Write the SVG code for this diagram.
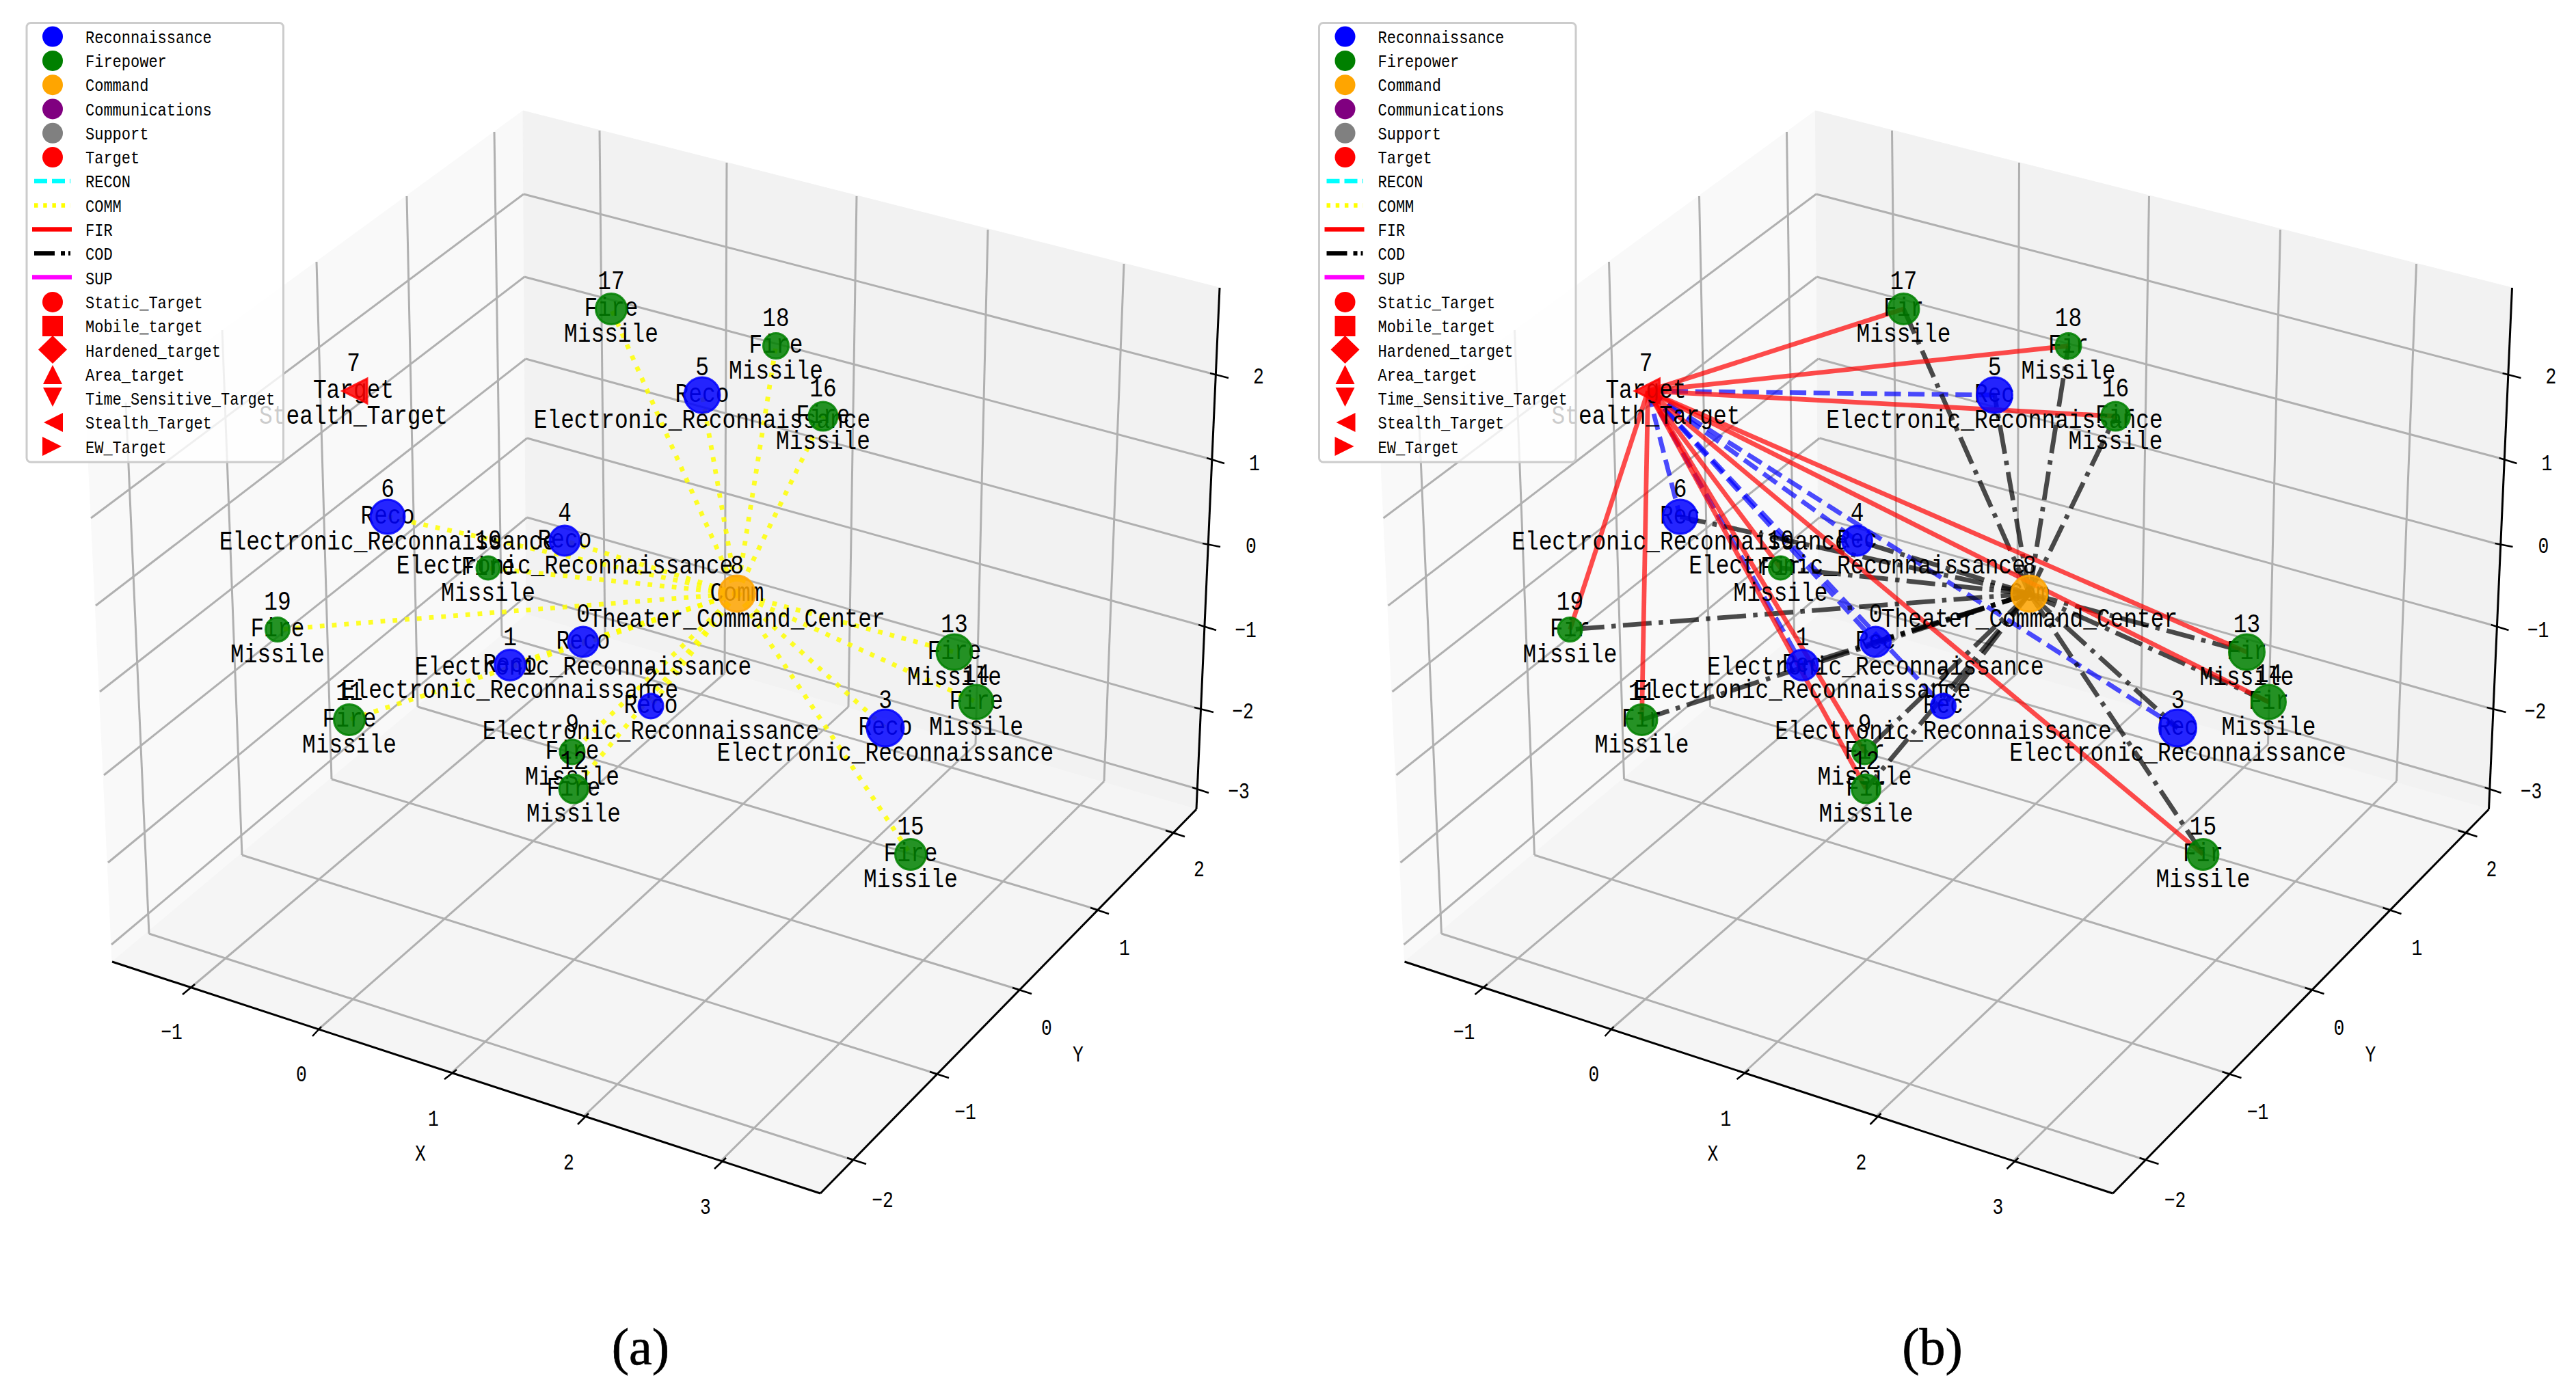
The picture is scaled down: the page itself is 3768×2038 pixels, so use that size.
<svg xmlns="http://www.w3.org/2000/svg" xmlns:xlink="http://www.w3.org/1999/xlink" width="3768" height="2038" viewBox="0 0 3768 2038">
<style>
text{fill:#000;font-family:"Liberation Mono","DejaVu Sans Mono",monospace;text-anchor:middle}
.l{font-size:39px}
.t{font-size:33px}
.g{font-size:26px;text-anchor:start}
.cap{font-family:"Liberation Serif",serif;font-size:76px;stroke:#000;stroke-width:.7}
.grid line{stroke:#b0b0b0;stroke-width:3}
.ax line{stroke:#000;stroke-width:3}
.tk line{stroke:#000;stroke-width:2.5}
.b{fill:#0000ff;stroke:#0000ff}
.f{fill:#008000;stroke:#008000}
.o{fill:#ffa500;stroke:#ffa500}
.r{fill:#ff0000;stroke:#ff0000}
.n{fill-opacity:.85;stroke-opacity:.85;stroke-width:3}
.comm line{stroke:#ffff00;stroke-opacity:.85;stroke-width:6.8;stroke-dasharray:6.8 11}
.cod line{stroke:#000;stroke-opacity:.7;stroke-width:6.8;stroke-dasharray:42 10.4 6.5 10.4}
.rec line{stroke:#0000ff;stroke-opacity:.7;stroke-width:6.8;stroke-dasharray:24 10.6}
.fir line{stroke:#ff0000;stroke-opacity:.7;stroke-width:6.8}
.lg{fill:#fff;fill-opacity:.8;stroke:#ccc;stroke-width:3}
</style>
<defs>
<g id="frame">
<polygon points="765,162 127,628 164,1407 770,899" fill="#f9f9f9" stroke="#f9f9f9"/>
<polygon points="765,162 1784,421 1750,1184 770,899" fill="#f2f2f2" stroke="#f2f2f2"/>
<polygon points="770,899 164,1407 1200,1746 1750,1184" fill="#f5f5f5" stroke="#f5f5f5"/>
<g class="grid">
<line x1="723" y1="193" x2="734" y2="931"/><line x1="595" y1="287" x2="611" y2="1034"/><line x1="463" y1="383" x2="485" y2="1140"/><line x1="325" y1="483" x2="354" y2="1251"/><line x1="184" y1="589" x2="218" y2="1366"/>
<line x1="766" y1="284" x2="133" y2="758"/><line x1="767" y1="405" x2="140" y2="886"/><line x1="769" y1="525" x2="146" y2="1012"/><line x1="771" y1="641" x2="152" y2="1134"/><line x1="771" y1="757" x2="158" y2="1262"/><line x1="771" y1="871" x2="163" y2="1382"/>
<line x1="877" y1="191" x2="885" y2="933"/><line x1="1063" y1="238" x2="1060" y2="985"/><line x1="1253" y1="287" x2="1241" y2="1034"/><line x1="1445" y1="336" x2="1427" y2="1089"/><line x1="1644" y1="386" x2="1615" y2="1143"/>
<line x1="766" y1="284" x2="1770" y2="546"/><line x1="767" y1="405" x2="1765" y2="670"/><line x1="769" y1="525" x2="1759" y2="795"/><line x1="771" y1="641" x2="1753" y2="914"/><line x1="771" y1="757" x2="1747" y2="1035"/><line x1="771" y1="871" x2="1744" y2="1152"/>
<line x1="885" y1="933" x2="279" y2="1445"/><line x1="1060" y1="985" x2="467" y2="1505"/><line x1="1241" y1="1034" x2="661" y2="1569"/><line x1="1427" y1="1089" x2="855" y2="1632"/><line x1="1615" y1="1143" x2="1055" y2="1698"/>
<line x1="218" y1="1366" x2="1248" y2="1697"/><line x1="354" y1="1251" x2="1370" y2="1571"/><line x1="485" y1="1140" x2="1491" y2="1448"/><line x1="611" y1="1034" x2="1606" y2="1331"/><line x1="734" y1="931" x2="1721" y2="1219"/>
</g>
<g class="ax">
<line x1="164" y1="1407" x2="1200" y2="1746"/><line x1="1200" y1="1746" x2="1750" y2="1184"/><line x1="1750" y1="1184" x2="1784" y2="421"/>
</g>
<g class="tk">
<line x1="267" y1="1455" x2="285" y2="1440"/><line x1="457" y1="1516" x2="470" y2="1502"/><line x1="650" y1="1579" x2="668" y2="1565"/><line x1="845" y1="1645" x2="861" y2="1629"/><line x1="1045" y1="1710" x2="1062" y2="1694"/>
<line x1="1267" y1="1703" x2="1239" y2="1694"/><line x1="1388" y1="1577" x2="1360" y2="1568"/><line x1="1509" y1="1454" x2="1481" y2="1445"/><line x1="1622" y1="1337" x2="1595" y2="1328"/><line x1="1733" y1="1224" x2="1705" y2="1215"/>
<line x1="1770" y1="546" x2="1797" y2="553"/><line x1="1765" y1="670" x2="1791" y2="678"/><line x1="1759" y1="795" x2="1785" y2="800"/><line x1="1753" y1="914" x2="1779" y2="922"/><line x1="1747" y1="1035" x2="1775" y2="1042"/><line x1="1744" y1="1152" x2="1768" y2="1160"/>
</g>
</g>
<g id="legendbox">
<rect class="lg" x="39" y="33.5" width="375.5" height="642.5" rx="6"/>
<g stroke="none">
<circle cx="77" cy="53.6" r="15" fill="#0000ff"/><circle cx="77" cy="88.9" r="15" fill="#008000"/><circle cx="77" cy="124.2" r="15" fill="#ffa500"/><circle cx="77" cy="159.5" r="15" fill="#800080"/><circle cx="77" cy="194.8" r="15" fill="#808080"/><circle cx="77" cy="230.1" r="15" fill="#ff0000"/>
<circle cx="77" cy="441.9" r="15" fill="#ff0000"/>
<rect x="62" y="462" width="30" height="30" fill="#ff0000"/>
<polygon points="77,491 98,511.5 77,532 56,511.5" fill="#ff0000"/>
<polygon points="77,534 91,562 63,562" fill="#ff0000"/>
<polygon points="63,567 91,567 77,595" fill="#ff0000"/>
<polygon points="64,618 92,604 92,632" fill="#ff0000"/>
<polygon points="62,639 62,667 90,653" fill="#ff0000"/>
</g>
<g stroke-width="6.5">
<line x1="50" y1="265" x2="103" y2="265" stroke="#00ffff" stroke-dasharray="19 7"/>
<line x1="50" y1="300.5" x2="103" y2="300.5" stroke="#ffff00" stroke-dasharray="5.5 7.7"/>
<line x1="47" y1="335.5" x2="105" y2="335.5" stroke="#ff0000"/>
<line x1="50" y1="370.5" x2="103" y2="370.5" stroke="#000" stroke-dasharray="30 9 6 5"/>
<line x1="47" y1="405.5" x2="105" y2="405.5" stroke="#ff00ff"/>
</g>
</g>
</defs>
<rect width="3768" height="2038" fill="#fff"/>

<g id="panel-a">
<use href="#frame" xlink:href="#frame"/>
<g id="axis-labels-a">
<text class="t" x="251" y="1520" textLength="31.6" lengthAdjust="spacingAndGlyphs">−1</text>
<text class="t" x="441" y="1582" textLength="15.8" lengthAdjust="spacingAndGlyphs">0</text>
<text class="t" x="634" y="1647" textLength="15.8" lengthAdjust="spacingAndGlyphs">1</text>
<text class="t" x="832" y="1711" textLength="15.8" lengthAdjust="spacingAndGlyphs">2</text>
<text class="t" x="1032" y="1776" textLength="15.8" lengthAdjust="spacingAndGlyphs">3</text>
<text class="t" x="615" y="1698" textLength="15.8" lengthAdjust="spacingAndGlyphs">X</text>
<text class="t" x="1291" y="1766" textLength="31.6" lengthAdjust="spacingAndGlyphs">−2</text>
<text class="t" x="1412" y="1637" textLength="31.6" lengthAdjust="spacingAndGlyphs">−1</text>
<text class="t" x="1531" y="1514" textLength="15.8" lengthAdjust="spacingAndGlyphs">0</text>
<text class="t" x="1645" y="1397" textLength="15.8" lengthAdjust="spacingAndGlyphs">1</text>
<text class="t" x="1754" y="1282" textLength="15.8" lengthAdjust="spacingAndGlyphs">2</text>
<text class="t" x="1577" y="1553" textLength="15.8" lengthAdjust="spacingAndGlyphs">Y</text>
<text class="t" x="1841" y="561" textLength="15.8" lengthAdjust="spacingAndGlyphs">2</text>
<text class="t" x="1835" y="688" textLength="15.8" lengthAdjust="spacingAndGlyphs">1</text>
<text class="t" x="1830" y="809" textLength="15.8" lengthAdjust="spacingAndGlyphs">0</text>
<text class="t" x="1822" y="932" textLength="31.6" lengthAdjust="spacingAndGlyphs">−1</text>
<text class="t" x="1818" y="1051" textLength="31.6" lengthAdjust="spacingAndGlyphs">−2</text>
<text class="t" x="1812" y="1168" textLength="31.6" lengthAdjust="spacingAndGlyphs">−3</text>
</g>
<g id="connectors-a" class="comm">
<line x1="1078" y1="868.5" x2="853" y2="939"/><line x1="1078" y1="868.5" x2="746" y2="973"/><line x1="1078" y1="868.5" x2="511" y2="1053"/><line x1="1078" y1="868.5" x2="952" y2="1033"/><line x1="1078" y1="868.5" x2="837" y2="1100"/><line x1="1078" y1="868.5" x2="839" y2="1154"/><line x1="1078" y1="868.5" x2="1295" y2="1065"/><line x1="1078" y1="868.5" x2="1332" y2="1250"/><line x1="1078" y1="868.5" x2="1396" y2="954"/><line x1="1078" y1="868.5" x2="1428" y2="1027"/><line x1="1078" y1="868.5" x2="1204" y2="609"/><line x1="1078" y1="868.5" x2="1135" y2="506"/><line x1="1078" y1="868.5" x2="1027" y2="578"/><line x1="1078" y1="868.5" x2="894" y2="452"/><line x1="1078" y1="868.5" x2="826" y2="791"/><line x1="1078" y1="868.5" x2="567" y2="756"/><line x1="1078" y1="868.5" x2="714" y2="831"/><line x1="1078" y1="868.5" x2="406" y2="921"/>
</g>
<g id="a-node-6"><text class="l" x="567" y="727" textLength="19.7" lengthAdjust="spacingAndGlyphs">6</text><text class="l" x="567" y="766" textLength="78.8" lengthAdjust="spacingAndGlyphs">Reco</text><text class="l" x="567" y="804" textLength="492.5" lengthAdjust="spacingAndGlyphs">Electronic_Reconnaissance</text><circle class="n b" cx="567" cy="756" r="25"/></g>
<g id="a-node-4"><text class="l" x="826" y="762" textLength="19.7" lengthAdjust="spacingAndGlyphs">4</text><text class="l" x="826" y="801" textLength="78.8" lengthAdjust="spacingAndGlyphs">Reco</text><text class="l" x="826" y="839" textLength="492.5" lengthAdjust="spacingAndGlyphs">Electronic_Reconnaissance</text><circle class="n b" cx="826" cy="791" r="22"/></g>
<g id="a-node-10"><text class="l" x="714" y="802" textLength="39.4" lengthAdjust="spacingAndGlyphs">10</text><text class="l" x="714" y="841" textLength="78.8" lengthAdjust="spacingAndGlyphs">Fire</text><text class="l" x="714" y="879" textLength="137.9" lengthAdjust="spacingAndGlyphs">Missile</text><circle class="n f" cx="714" cy="831" r="17"/></g>
<g id="a-node-8"><text class="l" x="1078" y="839" textLength="19.7" lengthAdjust="spacingAndGlyphs">8</text><text class="l" x="1078" y="879" textLength="78.8" lengthAdjust="spacingAndGlyphs">Comm</text><text class="l" x="1078" y="917" textLength="433.4" lengthAdjust="spacingAndGlyphs">Theater_Command_Center</text><circle class="n o" cx="1078" cy="868.5" r="26.5"/></g>
<g id="a-node-0"><text class="l" x="853" y="910" textLength="19.7" lengthAdjust="spacingAndGlyphs">0</text><text class="l" x="853" y="949" textLength="78.8" lengthAdjust="spacingAndGlyphs">Reco</text><text class="l" x="853" y="987" textLength="492.5" lengthAdjust="spacingAndGlyphs">Electronic_Reconnaissance</text><circle class="n b" cx="853" cy="939" r="22"/></g>
<g id="a-node-1"><text class="l" x="746" y="944" textLength="19.7" lengthAdjust="spacingAndGlyphs">1</text><text class="l" x="746" y="983" textLength="78.8" lengthAdjust="spacingAndGlyphs">Reco</text><text class="l" x="746" y="1021" textLength="492.5" lengthAdjust="spacingAndGlyphs">Electronic_Reconnaissance</text><circle class="n b" cx="746" cy="973" r="22.5"/></g>
<g id="a-node-2"><text class="l" x="952" y="1004" textLength="19.7" lengthAdjust="spacingAndGlyphs">2</text><text class="l" x="952" y="1043" textLength="78.8" lengthAdjust="spacingAndGlyphs">Reco</text><text class="l" x="952" y="1081" textLength="492.5" lengthAdjust="spacingAndGlyphs">Electronic_Reconnaissance</text><circle class="n b" cx="952" cy="1033" r="18"/></g>
<g id="a-node-11"><text class="l" x="511" y="1024" textLength="39.4" lengthAdjust="spacingAndGlyphs">11</text><text class="l" x="511" y="1063" textLength="78.8" lengthAdjust="spacingAndGlyphs">Fire</text><text class="l" x="511" y="1101" textLength="137.9" lengthAdjust="spacingAndGlyphs">Missile</text><circle class="n f" cx="511" cy="1053" r="22.5"/></g>
<g id="a-node-5"><text class="l" x="1027" y="549" textLength="19.7" lengthAdjust="spacingAndGlyphs">5</text><text class="l" x="1027" y="588" textLength="78.8" lengthAdjust="spacingAndGlyphs">Reco</text><text class="l" x="1027" y="626" textLength="492.5" lengthAdjust="spacingAndGlyphs">Electronic_Reconnaissance</text><circle class="n b" cx="1027" cy="578" r="26"/></g>
<g id="a-node-18"><text class="l" x="1135" y="477" textLength="39.4" lengthAdjust="spacingAndGlyphs">18</text><text class="l" x="1135" y="516" textLength="78.8" lengthAdjust="spacingAndGlyphs">Fire</text><text class="l" x="1135" y="554" textLength="137.9" lengthAdjust="spacingAndGlyphs">Missile</text><circle class="n f" cx="1135" cy="506" r="18.5"/></g>
<g id="a-node-16"><text class="l" x="1204" y="580" textLength="39.4" lengthAdjust="spacingAndGlyphs">16</text><text class="l" x="1204" y="619" textLength="78.8" lengthAdjust="spacingAndGlyphs">Fire</text><text class="l" x="1204" y="657" textLength="137.9" lengthAdjust="spacingAndGlyphs">Missile</text><circle class="n f" cx="1204" cy="609" r="21"/></g>
<g id="a-node-17"><text class="l" x="894" y="423" textLength="39.4" lengthAdjust="spacingAndGlyphs">17</text><text class="l" x="894" y="462" textLength="78.8" lengthAdjust="spacingAndGlyphs">Fire</text><text class="l" x="894" y="500" textLength="137.9" lengthAdjust="spacingAndGlyphs">Missile</text><circle class="n f" cx="894" cy="452" r="22.5"/></g>
<g id="a-node-19"><text class="l" x="406" y="892" textLength="39.4" lengthAdjust="spacingAndGlyphs">19</text><text class="l" x="406" y="931" textLength="78.8" lengthAdjust="spacingAndGlyphs">Fire</text><text class="l" x="406" y="969" textLength="137.9" lengthAdjust="spacingAndGlyphs">Missile</text><circle class="n f" cx="406" cy="921" r="17.5"/></g>
<g id="a-node-3"><text class="l" x="1295" y="1036" textLength="19.7" lengthAdjust="spacingAndGlyphs">3</text><text class="l" x="1295" y="1075" textLength="78.8" lengthAdjust="spacingAndGlyphs">Reco</text><text class="l" x="1295" y="1113" textLength="492.5" lengthAdjust="spacingAndGlyphs">Electronic_Reconnaissance</text><circle class="n b" cx="1295" cy="1065" r="27"/></g>
<g id="a-node-13"><text class="l" x="1396" y="925" textLength="39.4" lengthAdjust="spacingAndGlyphs">13</text><text class="l" x="1396" y="964" textLength="78.8" lengthAdjust="spacingAndGlyphs">Fire</text><text class="l" x="1396" y="1002" textLength="137.9" lengthAdjust="spacingAndGlyphs">Missile</text><circle class="n f" cx="1396" cy="954" r="26"/></g>
<g id="a-node-14"><text class="l" x="1428" y="998" textLength="39.4" lengthAdjust="spacingAndGlyphs">14</text><text class="l" x="1428" y="1037" textLength="78.8" lengthAdjust="spacingAndGlyphs">Fire</text><text class="l" x="1428" y="1075" textLength="137.9" lengthAdjust="spacingAndGlyphs">Missile</text><circle class="n f" cx="1428" cy="1027" r="25"/></g>
<g id="a-node-15"><text class="l" x="1332" y="1221" textLength="39.4" lengthAdjust="spacingAndGlyphs">15</text><text class="l" x="1332" y="1260" textLength="78.8" lengthAdjust="spacingAndGlyphs">Fire</text><text class="l" x="1332" y="1298" textLength="137.9" lengthAdjust="spacingAndGlyphs">Missile</text><circle class="n f" cx="1332" cy="1250" r="22.5"/></g>
<g id="a-node-9"><text class="l" x="837" y="1071" textLength="19.7" lengthAdjust="spacingAndGlyphs">9</text><text class="l" x="837" y="1110" textLength="78.8" lengthAdjust="spacingAndGlyphs">Fire</text><text class="l" x="837" y="1148" textLength="137.9" lengthAdjust="spacingAndGlyphs">Missile</text><circle class="n f" cx="837" cy="1100" r="18"/></g>
<g id="a-node-12"><text class="l" x="839" y="1125" textLength="39.4" lengthAdjust="spacingAndGlyphs">12</text><text class="l" x="839" y="1164" textLength="78.8" lengthAdjust="spacingAndGlyphs">Fire</text><text class="l" x="839" y="1202" textLength="137.9" lengthAdjust="spacingAndGlyphs">Missile</text><circle class="n f" cx="839" cy="1154" r="21"/></g>
<g id="a-node-7"><text class="l" x="517" y="543" textLength="19.7" lengthAdjust="spacingAndGlyphs">7</text><text class="l" x="517" y="582" textLength="118.2" lengthAdjust="spacingAndGlyphs">Target</text><text class="l" x="517" y="620" textLength="275.8" lengthAdjust="spacingAndGlyphs">Stealth_Target</text><polygon class="n r" points="501,572 537,554 537,590"/></g>
<g id="legend-a">
<use href="#legendbox" xlink:href="#legendbox"/>
<text class="g" x="125" y="62.6" textLength="184.8" lengthAdjust="spacingAndGlyphs">Reconnaissance</text>
<text class="g" x="125" y="97.9" textLength="118.8" lengthAdjust="spacingAndGlyphs">Firepower</text>
<text class="g" x="125" y="133.2" textLength="92.4" lengthAdjust="spacingAndGlyphs">Command</text>
<text class="g" x="125" y="168.5" textLength="184.8" lengthAdjust="spacingAndGlyphs">Communications</text>
<text class="g" x="125" y="203.8" textLength="92.4" lengthAdjust="spacingAndGlyphs">Support</text>
<text class="g" x="125" y="239.1" textLength="79.2" lengthAdjust="spacingAndGlyphs">Target</text>
<text class="g" x="125" y="274.4" textLength="66" lengthAdjust="spacingAndGlyphs">RECON</text>
<text class="g" x="125" y="309.7" textLength="52.8" lengthAdjust="spacingAndGlyphs">COMM</text>
<text class="g" x="125" y="345" textLength="39.6" lengthAdjust="spacingAndGlyphs">FIR</text>
<text class="g" x="125" y="380.3" textLength="39.6" lengthAdjust="spacingAndGlyphs">COD</text>
<text class="g" x="125" y="415.6" textLength="39.6" lengthAdjust="spacingAndGlyphs">SUP</text>
<text class="g" x="125" y="450.9" textLength="171.6" lengthAdjust="spacingAndGlyphs">Static_Target</text>
<text class="g" x="125" y="486.2" textLength="171.6" lengthAdjust="spacingAndGlyphs">Mobile_target</text>
<text class="g" x="125" y="521.5" textLength="198" lengthAdjust="spacingAndGlyphs">Hardened_target</text>
<text class="g" x="125" y="556.8" textLength="145.2" lengthAdjust="spacingAndGlyphs">Area_target</text>
<text class="g" x="125" y="592.1" textLength="277.2" lengthAdjust="spacingAndGlyphs">Time_Sensitive_Target</text>
<text class="g" x="125" y="627.4" textLength="184.8" lengthAdjust="spacingAndGlyphs">Stealth_Target</text>
<text class="g" x="125" y="662.7" textLength="118.8" lengthAdjust="spacingAndGlyphs">EW_Target</text>
</g>
<text class="cap" x="937" y="1996">(a)</text>
</g>

<g id="panel-b" transform="translate(1890.5 0)">
<use href="#frame" xlink:href="#frame"/>
<g id="axis-labels-b">
<text class="t" x="251" y="1520" textLength="31.6" lengthAdjust="spacingAndGlyphs">−1</text>
<text class="t" x="441" y="1582" textLength="15.8" lengthAdjust="spacingAndGlyphs">0</text>
<text class="t" x="634" y="1647" textLength="15.8" lengthAdjust="spacingAndGlyphs">1</text>
<text class="t" x="832" y="1711" textLength="15.8" lengthAdjust="spacingAndGlyphs">2</text>
<text class="t" x="1032" y="1776" textLength="15.8" lengthAdjust="spacingAndGlyphs">3</text>
<text class="t" x="615" y="1698" textLength="15.8" lengthAdjust="spacingAndGlyphs">X</text>
<text class="t" x="1291" y="1766" textLength="31.6" lengthAdjust="spacingAndGlyphs">−2</text>
<text class="t" x="1412" y="1637" textLength="31.6" lengthAdjust="spacingAndGlyphs">−1</text>
<text class="t" x="1531" y="1514" textLength="15.8" lengthAdjust="spacingAndGlyphs">0</text>
<text class="t" x="1645" y="1397" textLength="15.8" lengthAdjust="spacingAndGlyphs">1</text>
<text class="t" x="1754" y="1282" textLength="15.8" lengthAdjust="spacingAndGlyphs">2</text>
<text class="t" x="1577" y="1553" textLength="15.8" lengthAdjust="spacingAndGlyphs">Y</text>
<text class="t" x="1841" y="561" textLength="15.8" lengthAdjust="spacingAndGlyphs">2</text>
<text class="t" x="1835" y="688" textLength="15.8" lengthAdjust="spacingAndGlyphs">1</text>
<text class="t" x="1830" y="809" textLength="15.8" lengthAdjust="spacingAndGlyphs">0</text>
<text class="t" x="1822" y="932" textLength="31.6" lengthAdjust="spacingAndGlyphs">−1</text>
<text class="t" x="1818" y="1051" textLength="31.6" lengthAdjust="spacingAndGlyphs">−2</text>
<text class="t" x="1812" y="1168" textLength="31.6" lengthAdjust="spacingAndGlyphs">−3</text>
</g>
<g id="connectors-b">
<g class="rec">
<line x1="520" y1="572" x2="1027" y2="578"/><line x1="520" y1="572" x2="567" y2="756"/><line x1="520" y1="572" x2="826" y2="791"/><line x1="520" y1="572" x2="853" y2="939"/><line x1="520" y1="572" x2="746" y2="973"/><line x1="520" y1="572" x2="952" y2="1033"/><line x1="520" y1="572" x2="1295" y2="1065"/>
</g>
<g class="cod">
<line x1="1078" y1="868.5" x2="853" y2="939"/><line x1="1078" y1="868.5" x2="746" y2="973"/><line x1="1078" y1="868.5" x2="511" y2="1053"/><line x1="1078" y1="868.5" x2="952" y2="1033"/><line x1="1078" y1="868.5" x2="837" y2="1100"/><line x1="1078" y1="868.5" x2="839" y2="1154"/><line x1="1078" y1="868.5" x2="1295" y2="1065"/><line x1="1078" y1="868.5" x2="1332" y2="1250"/><line x1="1078" y1="868.5" x2="1396" y2="954"/><line x1="1078" y1="868.5" x2="1428" y2="1027"/><line x1="1078" y1="868.5" x2="1204" y2="609"/><line x1="1078" y1="868.5" x2="1135" y2="506"/><line x1="1078" y1="868.5" x2="1027" y2="578"/><line x1="1078" y1="868.5" x2="894" y2="452"/><line x1="1078" y1="868.5" x2="826" y2="791"/><line x1="1078" y1="868.5" x2="567" y2="756"/><line x1="1078" y1="868.5" x2="714" y2="831"/><line x1="1078" y1="868.5" x2="406" y2="921"/>
</g>
<g class="fir">
<line x1="520" y1="572" x2="894" y2="452"/><line x1="520" y1="572" x2="1135" y2="506"/><line x1="520" y1="572" x2="1204" y2="609"/><line x1="520" y1="572" x2="406" y2="921"/><line x1="520" y1="572" x2="511" y2="1053"/><line x1="520" y1="572" x2="714" y2="831"/><line x1="520" y1="572" x2="837" y2="1100"/><line x1="520" y1="572" x2="839" y2="1154"/><line x1="520" y1="572" x2="1332" y2="1250"/><line x1="520" y1="572" x2="1396" y2="954"/><line x1="520" y1="572" x2="1428" y2="1027"/>
</g>
</g>
<g id="b-node-6"><text class="l" x="567" y="727" textLength="19.7" lengthAdjust="spacingAndGlyphs">6</text><text class="l" x="567" y="766" textLength="59.1" lengthAdjust="spacingAndGlyphs">Rec</text><text class="l" x="567" y="804" textLength="492.5" lengthAdjust="spacingAndGlyphs">Electronic_Reconnaissance</text><circle class="n b" cx="567" cy="756" r="25"/></g>
<g id="b-node-4"><text class="l" x="826" y="762" textLength="19.7" lengthAdjust="spacingAndGlyphs">4</text><text class="l" x="826" y="801" textLength="59.1" lengthAdjust="spacingAndGlyphs">Rec</text><text class="l" x="826" y="839" textLength="492.5" lengthAdjust="spacingAndGlyphs">Electronic_Reconnaissance</text><circle class="n b" cx="826" cy="791" r="22"/></g>
<g id="b-node-10"><text class="l" x="714" y="802" textLength="39.4" lengthAdjust="spacingAndGlyphs">10</text><text class="l" x="714" y="841" textLength="59.1" lengthAdjust="spacingAndGlyphs">Fir</text><text class="l" x="714" y="879" textLength="137.9" lengthAdjust="spacingAndGlyphs">Missile</text><circle class="n f" cx="714" cy="831" r="17"/></g>
<g id="b-node-8"><text class="l" x="1078" y="839" textLength="19.7" lengthAdjust="spacingAndGlyphs">8</text><text class="l" x="1078" y="879" textLength="59.1" lengthAdjust="spacingAndGlyphs">Com</text><text class="l" x="1078" y="917" textLength="433.4" lengthAdjust="spacingAndGlyphs">Theater_Command_Center</text><circle class="n o" cx="1078" cy="868.5" r="26.5"/></g>
<g id="b-node-0"><text class="l" x="853" y="910" textLength="19.7" lengthAdjust="spacingAndGlyphs">0</text><text class="l" x="853" y="949" textLength="59.1" lengthAdjust="spacingAndGlyphs">Rec</text><text class="l" x="853" y="987" textLength="492.5" lengthAdjust="spacingAndGlyphs">Electronic_Reconnaissance</text><circle class="n b" cx="853" cy="939" r="22"/></g>
<g id="b-node-1"><text class="l" x="746" y="944" textLength="19.7" lengthAdjust="spacingAndGlyphs">1</text><text class="l" x="746" y="983" textLength="59.1" lengthAdjust="spacingAndGlyphs">Rec</text><text class="l" x="746" y="1021" textLength="492.5" lengthAdjust="spacingAndGlyphs">Electronic_Reconnaissance</text><circle class="n b" cx="746" cy="973" r="22.5"/></g>
<g id="b-node-2"><text class="l" x="952" y="1004" textLength="19.7" lengthAdjust="spacingAndGlyphs">2</text><text class="l" x="952" y="1043" textLength="59.1" lengthAdjust="spacingAndGlyphs">Rec</text><text class="l" x="952" y="1081" textLength="492.5" lengthAdjust="spacingAndGlyphs">Electronic_Reconnaissance</text><circle class="n b" cx="952" cy="1033" r="18"/></g>
<g id="b-node-11"><text class="l" x="511" y="1024" textLength="39.4" lengthAdjust="spacingAndGlyphs">11</text><text class="l" x="511" y="1063" textLength="59.1" lengthAdjust="spacingAndGlyphs">Fir</text><text class="l" x="511" y="1101" textLength="137.9" lengthAdjust="spacingAndGlyphs">Missile</text><circle class="n f" cx="511" cy="1053" r="22.5"/></g>
<g id="b-node-5"><text class="l" x="1027" y="549" textLength="19.7" lengthAdjust="spacingAndGlyphs">5</text><text class="l" x="1027" y="588" textLength="59.1" lengthAdjust="spacingAndGlyphs">Rec</text><text class="l" x="1027" y="626" textLength="492.5" lengthAdjust="spacingAndGlyphs">Electronic_Reconnaissance</text><circle class="n b" cx="1027" cy="578" r="26"/></g>
<g id="b-node-18"><text class="l" x="1135" y="477" textLength="39.4" lengthAdjust="spacingAndGlyphs">18</text><text class="l" x="1135" y="516" textLength="59.1" lengthAdjust="spacingAndGlyphs">Fir</text><text class="l" x="1135" y="554" textLength="137.9" lengthAdjust="spacingAndGlyphs">Missile</text><circle class="n f" cx="1135" cy="506" r="18.5"/></g>
<g id="b-node-16"><text class="l" x="1204" y="580" textLength="39.4" lengthAdjust="spacingAndGlyphs">16</text><text class="l" x="1204" y="619" textLength="59.1" lengthAdjust="spacingAndGlyphs">Fir</text><text class="l" x="1204" y="657" textLength="137.9" lengthAdjust="spacingAndGlyphs">Missile</text><circle class="n f" cx="1204" cy="609" r="21"/></g>
<g id="b-node-17"><text class="l" x="894" y="423" textLength="39.4" lengthAdjust="spacingAndGlyphs">17</text><text class="l" x="894" y="462" textLength="59.1" lengthAdjust="spacingAndGlyphs">Fir</text><text class="l" x="894" y="500" textLength="137.9" lengthAdjust="spacingAndGlyphs">Missile</text><circle class="n f" cx="894" cy="452" r="22.5"/></g>
<g id="b-node-19"><text class="l" x="406" y="892" textLength="39.4" lengthAdjust="spacingAndGlyphs">19</text><text class="l" x="406" y="931" textLength="59.1" lengthAdjust="spacingAndGlyphs">Fir</text><text class="l" x="406" y="969" textLength="137.9" lengthAdjust="spacingAndGlyphs">Missile</text><circle class="n f" cx="406" cy="921" r="17.5"/></g>
<g id="b-node-3"><text class="l" x="1295" y="1036" textLength="19.7" lengthAdjust="spacingAndGlyphs">3</text><text class="l" x="1295" y="1075" textLength="59.1" lengthAdjust="spacingAndGlyphs">Rec</text><text class="l" x="1295" y="1113" textLength="492.5" lengthAdjust="spacingAndGlyphs">Electronic_Reconnaissance</text><circle class="n b" cx="1295" cy="1065" r="27"/></g>
<g id="b-node-13"><text class="l" x="1396" y="925" textLength="39.4" lengthAdjust="spacingAndGlyphs">13</text><text class="l" x="1396" y="964" textLength="59.1" lengthAdjust="spacingAndGlyphs">Fir</text><text class="l" x="1396" y="1002" textLength="137.9" lengthAdjust="spacingAndGlyphs">Missile</text><circle class="n f" cx="1396" cy="954" r="26"/></g>
<g id="b-node-14"><text class="l" x="1428" y="998" textLength="39.4" lengthAdjust="spacingAndGlyphs">14</text><text class="l" x="1428" y="1037" textLength="59.1" lengthAdjust="spacingAndGlyphs">Fir</text><text class="l" x="1428" y="1075" textLength="137.9" lengthAdjust="spacingAndGlyphs">Missile</text><circle class="n f" cx="1428" cy="1027" r="25"/></g>
<g id="b-node-15"><text class="l" x="1332" y="1221" textLength="39.4" lengthAdjust="spacingAndGlyphs">15</text><text class="l" x="1332" y="1260" textLength="59.1" lengthAdjust="spacingAndGlyphs">Fir</text><text class="l" x="1332" y="1298" textLength="137.9" lengthAdjust="spacingAndGlyphs">Missile</text><circle class="n f" cx="1332" cy="1250" r="22.5"/></g>
<g id="b-node-9"><text class="l" x="837" y="1071" textLength="19.7" lengthAdjust="spacingAndGlyphs">9</text><text class="l" x="837" y="1110" textLength="59.1" lengthAdjust="spacingAndGlyphs">Fir</text><text class="l" x="837" y="1148" textLength="137.9" lengthAdjust="spacingAndGlyphs">Missile</text><circle class="n f" cx="837" cy="1100" r="18"/></g>
<g id="b-node-12"><text class="l" x="839" y="1125" textLength="39.4" lengthAdjust="spacingAndGlyphs">12</text><text class="l" x="839" y="1164" textLength="59.1" lengthAdjust="spacingAndGlyphs">Fir</text><text class="l" x="839" y="1202" textLength="137.9" lengthAdjust="spacingAndGlyphs">Missile</text><circle class="n f" cx="839" cy="1154" r="21"/></g>
<g id="b-node-7"><text class="l" x="517" y="543" textLength="19.7" lengthAdjust="spacingAndGlyphs">7</text><text class="l" x="517" y="582" textLength="118.2" lengthAdjust="spacingAndGlyphs">Target</text><text class="l" x="517" y="620" textLength="275.8" lengthAdjust="spacingAndGlyphs">Stealth_Target</text><polygon class="n r" points="501,572 537,554 537,590"/></g>
<g id="legend-b">
<use href="#legendbox" xlink:href="#legendbox"/>
<text class="g" x="125" y="62.6" textLength="184.8" lengthAdjust="spacingAndGlyphs">Reconnaissance</text>
<text class="g" x="125" y="97.9" textLength="118.8" lengthAdjust="spacingAndGlyphs">Firepower</text>
<text class="g" x="125" y="133.2" textLength="92.4" lengthAdjust="spacingAndGlyphs">Command</text>
<text class="g" x="125" y="168.5" textLength="184.8" lengthAdjust="spacingAndGlyphs">Communications</text>
<text class="g" x="125" y="203.8" textLength="92.4" lengthAdjust="spacingAndGlyphs">Support</text>
<text class="g" x="125" y="239.1" textLength="79.2" lengthAdjust="spacingAndGlyphs">Target</text>
<text class="g" x="125" y="274.4" textLength="66" lengthAdjust="spacingAndGlyphs">RECON</text>
<text class="g" x="125" y="309.7" textLength="52.8" lengthAdjust="spacingAndGlyphs">COMM</text>
<text class="g" x="125" y="345" textLength="39.6" lengthAdjust="spacingAndGlyphs">FIR</text>
<text class="g" x="125" y="380.3" textLength="39.6" lengthAdjust="spacingAndGlyphs">COD</text>
<text class="g" x="125" y="415.6" textLength="39.6" lengthAdjust="spacingAndGlyphs">SUP</text>
<text class="g" x="125" y="450.9" textLength="171.6" lengthAdjust="spacingAndGlyphs">Static_Target</text>
<text class="g" x="125" y="486.2" textLength="171.6" lengthAdjust="spacingAndGlyphs">Mobile_target</text>
<text class="g" x="125" y="521.5" textLength="198" lengthAdjust="spacingAndGlyphs">Hardened_target</text>
<text class="g" x="125" y="556.8" textLength="145.2" lengthAdjust="spacingAndGlyphs">Area_target</text>
<text class="g" x="125" y="592.1" textLength="277.2" lengthAdjust="spacingAndGlyphs">Time_Sensitive_Target</text>
<text class="g" x="125" y="627.4" textLength="184.8" lengthAdjust="spacingAndGlyphs">Stealth_Target</text>
<text class="g" x="125" y="662.7" textLength="118.8" lengthAdjust="spacingAndGlyphs">EW_Target</text>
</g>
<text class="cap" x="936" y="1996">(b)</text>
</g>
</svg>
